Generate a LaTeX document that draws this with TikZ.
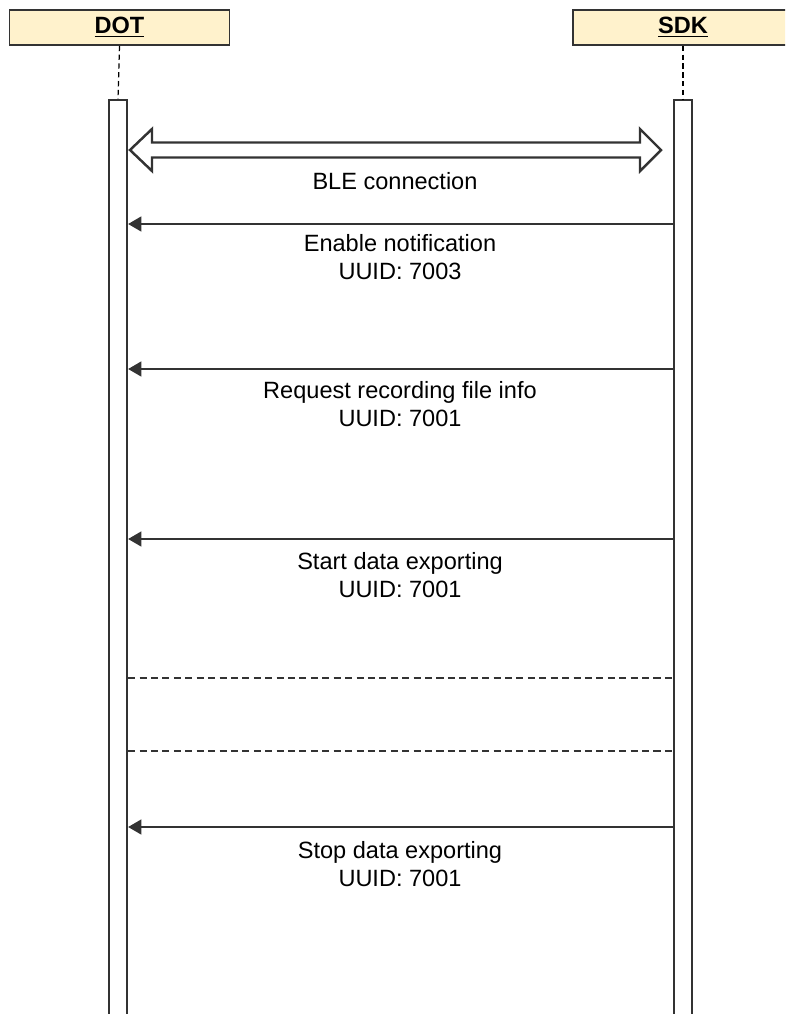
\documentclass[tikz,border=0pt]{standalone}
\usepackage{fontspec}
\setmainfont{Liberation Sans}
\usepackage{tikz}
\usetikzlibrary{arrows.meta}
\usetikzlibrary{positioning}

\definecolor{headfill}{HTML}{FFF2CC}
\definecolor{linegray}{HTML}{333333}

\tikzset{
  headbox/.style={draw=linegray, line width=1pt, fill=headfill, minimum width=4.4cm, minimum height=0.7cm, inner sep=0pt, font=\fontsize{13.4}{16}\selectfont\bfseries},
  actbar/.style={draw=linegray, line width=1.3pt, fill=white, minimum width=0.36cm, minimum height=18.6cm, inner sep=0pt},
  lifeline/.style={line width=0.7pt, dash pattern=on 3pt off 2pt},
  msg/.style={line width=0.9pt, color=linegray, ->},
  sepline/.style={line width=0.7pt, color=linegray, dash pattern=on 4pt off 2.5pt},
  msglabel/.style={align=center}
}

\begin{document}
\begin{tikzpicture}[line cap=butt,line join=miter,>={Triangle[length=7.5pt,width=8.5pt]},x=0.02cm,y=-0.02cm,font=\fontsize{13.4}{16}\selectfont]
\useasboundingbox (0,0) rectangle (785,1014);
\clip (0,0) rectangle (785,1014);
% heads
\node[headbox] (dot) at (119.5,27.5) {\underline{DOT}};
\node[headbox] (sdk) at (683,27.5) {\underline{SDK}};
% activation bars
\node[actbar] (dotbar) at (118,565) {};
\node[actbar] (sdkbar) at (683,565) {};
\draw [lifeline] (dot.south) -- (dotbar.north);
\draw [lifeline] (sdk.south) -- (sdkbar.north);
% BLE connection
\draw [line width=1.4pt, color=linegray, fill=white] (130,150) -- (152,129) -- (152,142.5) -- (640,142.5) -- (640,129) -- (661,150) -- (640,171) -- (640,157.5) -- (152,157.5) -- (152,171) -- cycle;
\node (ble) at (395,181) {BLE connection};
% messages
\coordinate (s1) at (sdkbar.west |- 0,224);
\coordinate (d1) at (dotbar.east |- 0,224);
\draw [msg] (s1) -- (d1);
\node[msglabel] (m1) at (400,257) {Enable notification\\UUID: 7003};
\coordinate (s2) at (sdkbar.west |- 0,369);
\coordinate (d2) at (dotbar.east |- 0,369);
\draw [msg] (s2) -- (d2);
\node[msglabel] (m2) at (400,404) {Request recording file info\\UUID: 7001};
\coordinate (s3) at (sdkbar.west |- 0,539);
\coordinate (d3) at (dotbar.east |- 0,539);
\draw [msg] (s3) -- (d3);
\node[msglabel] (m3) at (400,575) {Start data exporting\\UUID: 7001};
% separators
\coordinate (s4) at (sdkbar.west |- 0,678);
\coordinate (d4) at (dotbar.east |- 0,678);
\draw [sepline] (d4) -- (s4);
\coordinate (s5) at (sdkbar.west |- 0,751);
\coordinate (d5) at (dotbar.east |- 0,751);
\draw [sepline] (d5) -- (s5);
\coordinate (s6) at (sdkbar.west |- 0,827);
\coordinate (d6) at (dotbar.east |- 0,827);
\draw [msg] (s6) -- (d6);
\node[msglabel] (m6) at (400,864) {Stop data exporting\\UUID: 7001};
\end{tikzpicture}
\end{document}
